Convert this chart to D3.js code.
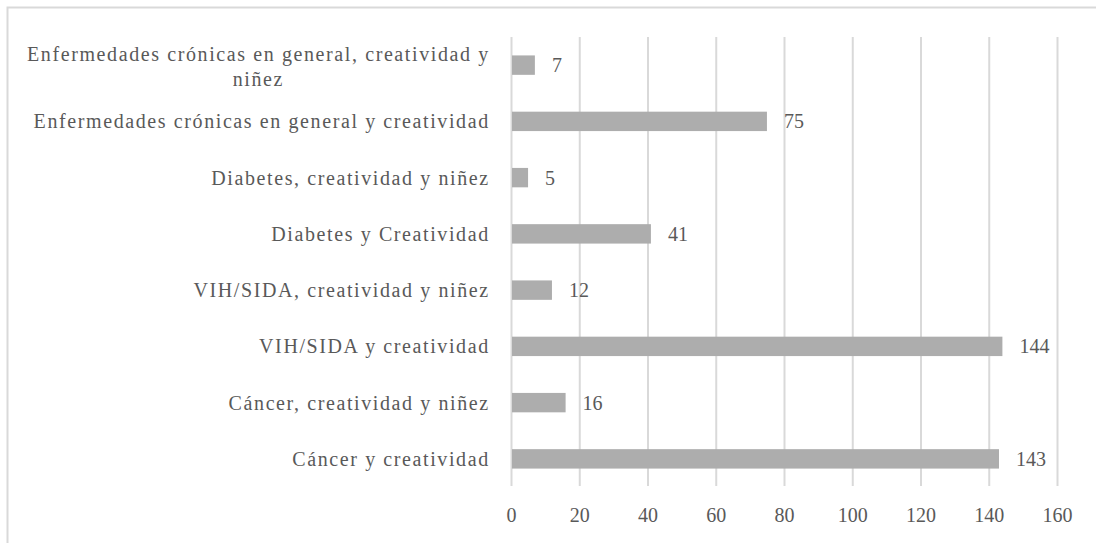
<!DOCTYPE html>
<html>
<head>
<meta charset="utf-8">
<script src="https://cdn.jsdelivr.net/npm/d3@7"></script>
<style>
    body { margin: 0; background: #fff; }
    svg text { font-family: "Liberation Serif", "Times New Roman", serif; fill: #595959; }
</style>
</head>
<body>
<div class="chart"></div>
<script>
var categories = [
    "Enfermedades crónicas en general, creatividad y niñez",
    "Enfermedades crónicas en general y creatividad",
    "Diabetes, creatividad y niñez",
    "Diabetes y Creatividad",
    "VIH/SIDA, creatividad y niñez",
    "VIH/SIDA y creatividad",
    "Cáncer, creatividad y niñez",
    "Cáncer y creatividad"
];
var values = [7, 75, 5, 41, 12, 144, 16, 143];
var ticks = [0, 20, 40, 60, 80, 100, 120, 140, 160];

function drawBars(cont) {
    var width = 1096, height = 543;
    var left = 511, right = 1057, top = 37, bottom = 487;

    var svg = d3.select(cont)
        .append("svg")
        .attr("width", width)
        .attr("height", height);

    // chart frame
    svg.append("rect")
        .attr("x", 7.5).attr("y", 7.5)
        .attr("width", 1100).attr("height", 550)
        .attr("fill", "none")
        .style("stroke", "#d9d9d9")
        .style("stroke-width", "2px");

    var x = d3.scaleLinear().domain([0, 160]).range([left, right]);
    var y = d3.scaleBand().domain(categories).range([top, bottom])
        .paddingInner(0.655).paddingOuter(0.3275);

    var axis = svg.append("g")
        .attr("transform", "translate(0," + (bottom - 1) + ")")
        .call(d3.axisBottom(x).tickValues(ticks).tickSizeInner(-(bottom - 1 - top)).tickSizeOuter(0));
    axis.select(".domain").remove();
    axis.selectAll("line").style("stroke", "#d9d9d9").style("stroke-width", "2px");
    axis.selectAll("text")
        .attr("y", 36).attr("dy", null)
        .style("font-size", "20px")
        .style("fill", "#595959")
        .style("font-family", "Liberation Serif");

    svg.selectAll(".bar")
        .data(values)
        .enter().append("rect")
        .attr("class", "bar")
        .attr("x", x(0) + 1)
        .attr("y", function (d, i) { return y(categories[i]); })
        .attr("width", function (d) { return x(d) - x(0) - 1; })
        .attr("height", y.bandwidth())
        .attr("fill", "#adadad");

    svg.selectAll(".value")
        .data(values)
        .enter().append("text")
        .attr("class", "value")
        .attr("x", function (d) { return x(d) + 17; })
        .attr("y", function (d, i) { return y(categories[i]) + y.bandwidth() / 2 + 7; })
        .style("font-size", "20px")
        .text(function (d) { return d; });

    // category labels, wrapped and centred inside a right-aligned block
    var labelRight = 489, maxWidth = 476, spacing = 1.6;
    categories.forEach(function (c, i) {
        var g = svg.append("g").attr("class", "label");
        var words = c.split(" "), lines = [], line = [];
        var probe = g.append("text").style("font-size", "20px").style("letter-spacing", spacing + "px");
        words.forEach(function (w) {
            line.push(w);
            probe.text(line.join(" "));
            if (probe.node().getComputedTextLength() > maxWidth && line.length > 1) {
                line.pop();
                lines.push(line.join(" "));
                line = [w];
            }
        });
        lines.push(line.join(" "));
        probe.remove();

        var cy = y(c) + y.bandwidth() / 2;
        var lineH = 25;
        var texts = lines.map(function (l, k) {
            return g.append("text")
                .style("font-size", "20px")
                .style("letter-spacing", spacing + "px")
                .attr("y", cy + 7 + k * lineH - (lines.length > 1 ? 11 : 0))
                .text(l);
        });
        var blockW = d3.max(texts, function (t) { return t.node().getComputedTextLength(); });
        texts.forEach(function (t) {
            t.attr("x", labelRight + spacing / 2 - blockW / 2).attr("text-anchor", "middle");
        });
    });
}

drawBars(".chart");
</script>
</body>
</html>
